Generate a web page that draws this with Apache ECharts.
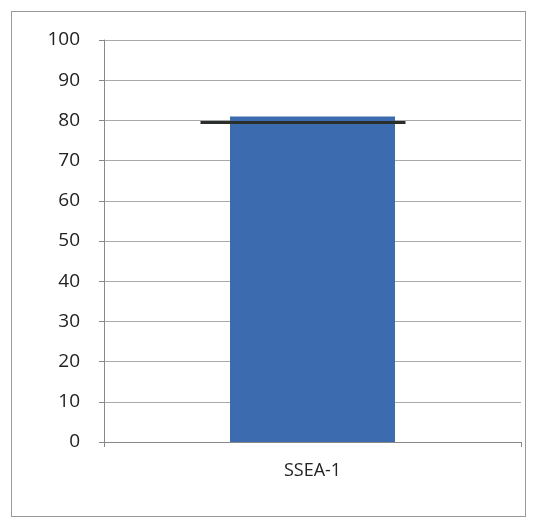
<!DOCTYPE html><html><head><meta charset="utf-8"><script src="https://cdn.jsdelivr.net/npm/echarts@6/dist/echarts.min.js"></script>
<style>body{margin:0;background:#fff}#box{position:absolute;left:11px;top:11px;width:513px;height:504px;border:1px solid #999}#c{width:537px;height:525px}</style></head><body><div id="box"></div><div id="c"></div><script>
const categories=['SSEA-1'];
const values=[81];
const errorTop=[79.5];
const yTicks=[0,100,10];
const chart=echarts.init(document.getElementById('c'));
chart.setOption({
 animation:false,
 grid:{left:104,right:16,top:40,bottom:83},
 xAxis:{type:'category',data:categories,axisLine:{lineStyle:{color:'#888'}},axisTick:{show:true,lineStyle:{color:'#888'}},axisLabel:{color:'#222',fontSize:18,fontFamily:'Open Sans',margin:20}},
 yAxis:{type:'value',min:yTicks[0],max:yTicks[1],interval:yTicks[2],axisLine:{show:true,lineStyle:{color:'#888'}},axisTick:{show:true,lineStyle:{color:'#888'}},splitLine:{lineStyle:{color:'#aaa'}},axisLabel:{color:'#222',fontSize:19,fontFamily:'Open Sans',margin:24}},
 series:[
  {type:'bar',data:values,barWidth:165,itemStyle:{color:'#3d6bb0'}},
  {type:'custom',data:errorTop.map((v,i)=>[i,v]),z:10,renderItem:(p,api)=>{const pt=api.coord([api.value(0),api.value(1)]);return {type:'line',shape:{x1:pt[0]-112,y1:pt[1],x2:pt[0]+93,y2:pt[1]},style:{stroke:'#2a2f2c',lineWidth:3}};}}
 ]
});
</script></body></html>
